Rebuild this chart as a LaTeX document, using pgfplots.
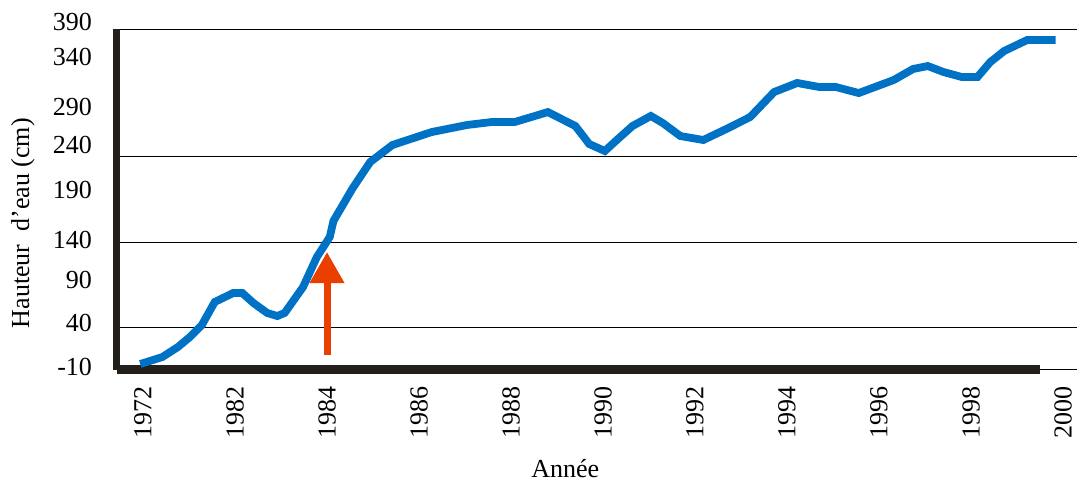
\documentclass[border=0pt]{standalone}
\usepackage{fontspec}
\setmainfont{Liberation Serif}
\usepackage{pgfplots}
\pgfplotsset{compat=1.18}
\usetikzlibrary{arrows.meta}
\definecolor{lineblue}{RGB}{0,114,198}
\definecolor{arrowred}{RGB}{233,64,0}
\definecolor{axisdark}{RGB}{35,31,26}
\begin{document}
\begin{tikzpicture}
\begin{axis}[name=ax, scale only axis, width=480pt, height=174.75pt,
  xmin=-0.2826, xmax=10.152, ymin=-10, ymax=400,
  axis line style={draw=none}, clip=false,
  /pgf/number format/assume math mode=true,
  xtick={0,1,2,3,4,5,6,7,8,9,10},
  xticklabels={1972,1982,1984,1986,1988,1990,1992,1994,1996,1998,2000},
  ytick={-6.5,45,95.6,142.5,201,254,298.5,357,398},
  yticklabels={-10,40,90,140,190,240,290,340,390},
  major tick length=0pt,
  tick label style={font=\fontsize{13}{15}\selectfont},
  xticklabel style={rotate=90, anchor=east},
  xticklabel shift=4.5pt,
  yticklabel style={anchor=east, xshift=-9pt},
  extra y ticks={-10,40,140,240,390}, extra y tick labels={},
  extra y tick style={grid=major, major tick length=0pt},
  major grid style={black, line width=0.5pt},
  xlabel={Année}, ylabel={Hauteur\ \ d'eau (cm)},
  label style={font=\fontsize{13}{15}\selectfont},
  xlabel style={at={(axis description cs:0.467,0)}, anchor=north, yshift=-41pt},
  ylabel style={at={(axis description cs:-0.098,0.42)}, anchor=center, rotate=0},
]
% axis lines
\addplot[axisdark, line width=3.5pt, forget plot] coordinates {(-0.2826,-10) (-0.2826,390)};
\addplot[axisdark, line width=4.5pt, forget plot] coordinates {(-0.2826,-10) (9.75,-10)};
% water level
\addplot[lineblue, line width=3.9pt, no marks] coordinates {
(-0.03,-3.0) (0.21,5.2) (0.38,17.0) (0.51,28.7) (0.64,42.8) (0.78,69.8)
(0.98,80.3) (1.08,80.3) (1.20,68.6) (1.35,56.9) (1.46,53.3) (1.54,56.9)
(1.74,87.4) (1.89,122.6) (2.03,146.0) (2.07,164.8) (2.28,203.5) (2.47,234.0)
(2.71,253.9) (3.14,269.2) (3.52,277.4) (3.79,280.9) (4.04,280.9) (4.26,288.0)
(4.40,292.6) (4.70,276.2) (4.85,255.1) (5.02,246.9) (5.15,259.8) (5.32,276.2)
(5.52,288.0) (5.65,279.7) (5.84,264.5) (6.09,259.8) (6.34,272.7) (6.60,286.8)
(6.86,316.1) (7.11,326.7) (7.35,322.0) (7.53,322.0) (7.78,314.9) (8.16,330.2)
(8.37,343.1) (8.53,346.6) (8.70,339.6) (8.90,333.7) (9.07,333.7) (9.21,351.3)
(9.36,364.2) (9.61,377.1) (9.92,377.1)
};
% arrow
\addplot[arrowred, line width=3.5pt, -{Triangle[width=16.5pt,length=15.5pt]}, forget plot] coordinates {(2.0,7.6) (2.0,128.4)};
\end{axis}
\pgfresetboundingbox
\useasboundingbox ([shift={(-58.5pt,-55.5pt)}]ax.south west) rectangle ([shift={(0pt,10.25pt)}]ax.north east);
\end{tikzpicture}
\end{document}
